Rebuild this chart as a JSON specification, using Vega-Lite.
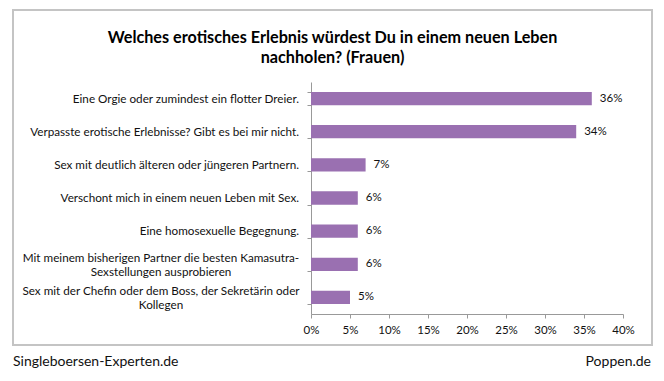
{
  "$schema": "https://vega.github.io/schema/vega-lite/v6.json",
  "background": "white",
  "padding": {"left": 12, "top": 9, "right": 0, "bottom": 0},
  "config": {
    "font": "Lato",
    "concat": {"spacing": 8},
    "view": {"stroke": "#c4c4c4", "strokeWidth": 2}
  },
  "vconcat": [
    {
      "width": 639,
      "height": 335,
      "title": {
        "text": ["Welches erotisches Erlebnis würdest Du in einem neuen Leben", "nachholen? (Frauen)"],
        "fontSize": 16.2,
        "fontWeight": "bold",
        "font": "Lato",
        "color": "#000000",
        "anchor": "middle",
        "frame": "group",
        "offset": -56,
        "lineHeight": 20
      },
      "data": {
        "values": [
          {"answer": "Eine Orgie oder zumindest ein flotter Dreier.", "share": 0.36, "lines": 1},
          {"answer": "Verpasste erotische Erlebnisse? Gibt es bei mir nicht.", "share": 0.34, "lines": 1},
          {"answer": "Sex mit deutlich älteren oder jüngeren Partnern.", "share": 0.07, "lines": 1},
          {"answer": "Verschont mich in einem neuen Leben mit Sex.", "share": 0.06, "lines": 1},
          {"answer": "Eine homosexuelle Begegnung.", "share": 0.06, "lines": 1},
          {"answer": "Mit meinem bisherigen Partner die besten Kamasutra-\nSexstellungen ausprobieren", "share": 0.06, "lines": 2},
          {"answer": "Sex mit der Chefin oder dem Boss, der Sekretärin oder\nKollegen", "share": 0.05, "lines": 2}
        ]
      },
      "encoding": {
        "y": {
          "field": "answer",
          "type": "nominal",
          "sort": null,
          "title": null,
          "scale": {"range": [72, 304], "paddingInner": 0.6, "paddingOuter": 0.3},
          "axis": {
            "offset": -298,
            "tickBand": "extent",
            "tickSize": 4,
            "tickColor": "#999999",
            "domainColor": "#999999",
            "labels": false
          }
        },
        "x": {
          "field": "share",
          "type": "quantitative",
          "title": null,
          "scale": {"domain": [0, 0.4], "range": [298, 610]},
          "axis": {
            "offset": -31,
            "values": [0, 0.05, 0.1, 0.15, 0.2, 0.25, 0.3, 0.35, 0.4],
            "format": ".0%",
            "grid": false,
            "tickSize": 4,
            "tickColor": "#999999",
            "domainColor": "#999999",
            "labelFont": "Lato",
            "labelFontSize": 11.5,
            "labelColor": "#111111",
            "labelPadding": 6,
            "labelFlush": false
          }
        }
      },
      "layer": [
        {"mark": {"type": "bar", "color": "#9a70b1"}},
        {
          "mark": {"type": "text", "align": "left", "baseline": "middle", "dx": 8, "fontSize": 11.5, "font": "Lato", "color": "#111111"},
          "encoding": {"text": {"field": "share", "type": "quantitative", "format": ".0%"}}
        },
        {
          "transform": [{"filter": "datum.lines === 1"}],
          "mark": {"type": "text", "align": "right", "baseline": "middle", "dx": -12, "fontSize": 11.7, "font": "Lato", "color": "#111111"},
          "encoding": {"x": {"datum": 0, "type": "quantitative"}, "text": {"field": "answer"}}
        },
        {
          "transform": [{"filter": "datum.lines === 2"}],
          "mark": {"type": "text", "align": "center", "baseline": "middle", "dx": -150, "dy": -6, "fontSize": 11.7, "font": "Lato", "color": "#111111", "lineBreak": "\n", "lineHeight": 14},
          "encoding": {"x": {"datum": 0, "type": "quantitative"}, "text": {"field": "answer"}}
        }
      ]
    },
    {
      "width": 639,
      "height": 16,
      "view": {"stroke": null},
      "data": {
        "values": [
          {"pos": "left", "source": "Singleboersen-Experten.de"},
          {"pos": "right", "source": "Poppen.de"}
        ]
      },
      "encoding": {
        "x": {"field": "pos", "type": "nominal", "scale": {"type": "point", "domain": ["left", "right"], "padding": 0}, "axis": null},
        "text": {"field": "source", "type": "nominal"}
      },
      "layer": [
        {
          "transform": [{"filter": "datum.pos === 'left'"}],
          "mark": {"type": "text", "align": "left", "baseline": "middle", "fontSize": 14, "font": "Lato", "color": "#111111", "dx": 0}
        },
        {
          "transform": [{"filter": "datum.pos === 'right'"}],
          "mark": {"type": "text", "align": "right", "baseline": "middle", "fontSize": 14, "font": "Lato", "color": "#111111", "dx": -1}
        }
      ]
    }
  ]
}
